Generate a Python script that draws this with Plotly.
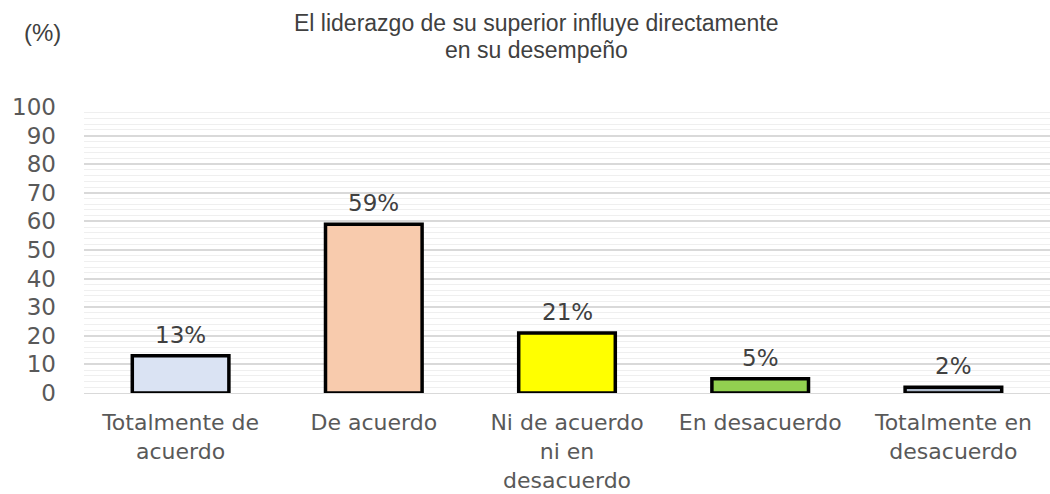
import plotly.graph_objects as go

# Survey responses (share of respondents, %)
categories = [
    "Totalmente de<br>acuerdo",
    "De acuerdo",
    "Ni de acuerdo<br>ni en<br>desacuerdo",
    "En desacuerdo",
    "Totalmente en<br>desacuerdo",
]
values = [13, 59, 21, 5, 2]
labels = ["13%", "59%", "21%", "5%", "2%"]
bar_colors = ["#dae3f3", "#f8cbad", "#ffff00", "#92d050", "#adb9ca"]
y_ticks = [0, 10, 20, 30, 40, 50, 60, 70, 80, 90, 100]
title_lines = ["El liderazgo de su superior influye directamente", "en su desempeño"]

TEXT_FONT = "DejaVu Sans"
TITLE_FONT = "Liberation Sans"

fig = go.Figure(
    go.Bar(
        x=categories,
        y=values,
        marker=dict(color=bar_colors, line=dict(color="#000000", width=3.5)),
        width=0.5,
        hoverinfo="x+y",
    )
)

# value labels above each bar
annotations = [
    dict(
        x=cat, y=val, xref="x", yref="y",
        text=lab, showarrow=False,
        xanchor="center", yanchor="bottom", yshift=6,
        font=dict(family=TEXT_FONT, size=23, color="#404040"),
    )
    for cat, val, lab in zip(categories, values, labels)
]

# two-line title, placed line by line for tight spacing
for line, shift in zip(title_lines, [84, 57]):
    annotations.append(
        dict(
            text=line,
            xref="paper", yref="paper", x=0.4686, y=1,
            xanchor="center", yanchor="middle", yshift=shift,
            showarrow=False,
            font=dict(family=TITLE_FONT, size=23, color="#404040"),
        )
    )

annotations.append(
    dict(
        text="(%)",
        xref="paper", yref="paper", x=0, y=1,
        xanchor="left", yanchor="middle", xshift=-62, yshift=75,
        showarrow=False,
        font=dict(family=TITLE_FONT, size=24, color="#404040"),
    )
)

fig.update_layout(
    width=1050,
    height=494,
    margin=dict(l=84, r=0, t=107, b=101),
    paper_bgcolor="white",
    plot_bgcolor="white",
    showlegend=False,
    annotations=annotations,
)

fig.update_yaxes(
    range=[0, 100],
    tickvals=y_ticks,
    showgrid=True,
    gridcolor="#d9d9d9",
    gridwidth=1.5,
    minor=dict(dtick=2, showgrid=True, gridcolor="#efefef", gridwidth=1),
    zeroline=False,
    showline=False,
    tickfont=dict(family=TEXT_FONT, size=23, color="#595959"),
    ticks="",
    ticklabelstandoff=27,
    automargin=False,
)

fig.update_xaxes(
    showgrid=False,
    showline=True,
    linecolor="#d9d9d9",
    ticks="",
    tickfont=dict(family=TEXT_FONT, size=22, color="#595959"),
    ticklabelstandoff=10,
    automargin=False,
)

fig.write_html("out.html")
